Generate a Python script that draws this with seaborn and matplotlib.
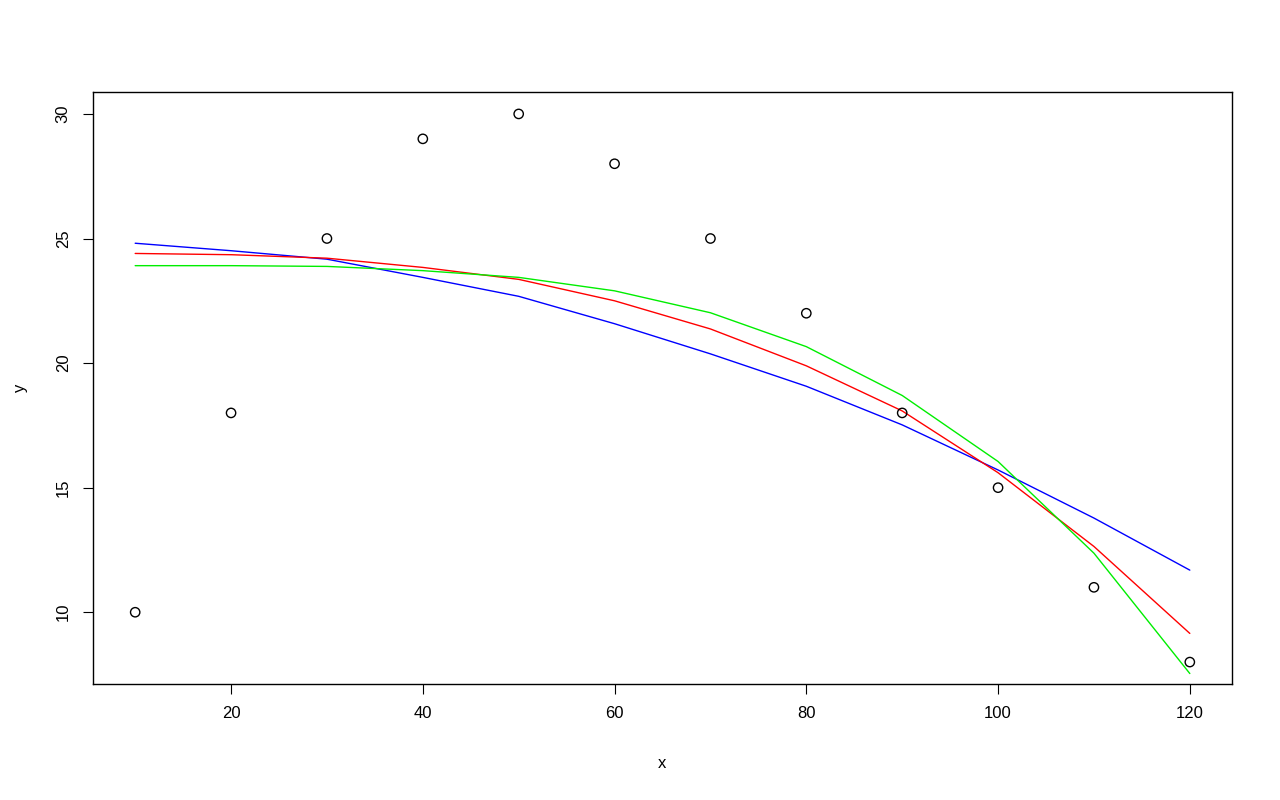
import matplotlib
matplotlib.use("Agg")
import matplotlib.pyplot as plt
import seaborn as sns
import pandas as pd

x = [10, 20, 30, 40, 50, 60, 70, 80, 90, 100, 110, 120]
y = [10, 18, 25, 29, 30, 28, 25, 22, 18, 15, 11, 8]
fit_blue = [24.81, 24.51, 24.17, 23.44, 22.68, 21.58, 20.37, 19.07, 17.52, 15.71, 13.78, 11.69]
fit_red = [24.40, 24.35, 24.21, 23.84, 23.36, 22.50, 21.37, 19.89, 18.08, 15.60, 12.64, 9.15]
fit_green = [23.91, 23.91, 23.88, 23.71, 23.44, 22.90, 22.02, 20.66, 18.70, 16.05, 12.37, 7.54]

df = pd.DataFrame({"x": x, "y": y, "blue": fit_blue, "red": fit_red, "green": fit_green})

sns.set_style("white")
plt.rcParams["font.family"] = ["Liberation Sans", "DejaVu Sans"]
plt.rcParams["text.color"] = "black"
plt.rcParams["axes.labelcolor"] = "black"
plt.rcParams["xtick.color"] = "black"
plt.rcParams["ytick.color"] = "black"

fig = plt.figure(figsize=(12.8, 8), dpi=100)
ax = fig.add_axes([93/1280, 1-684/800, (1232-93)/1280, (684-92)/800])

sns.scatterplot(data=df, x="x", y="y", ax=ax, marker="o", s=45,
                facecolor="none", edgecolor="black", linewidth=1.0, zorder=3)
sns.lineplot(data=df, x="x", y="blue", ax=ax, color="#0000FF", linewidth=1.0, zorder=2)
sns.lineplot(data=df, x="x", y="red", ax=ax, color="#FF0000", linewidth=1.0, zorder=2)
sns.lineplot(data=df, x="x", y="green", ax=ax, color="#00EE00", linewidth=1.0, zorder=2)

rx = max(x) - min(x)
ry = max(y) - min(y)
ax.set_xlim(min(x) - 0.04*rx, max(x) + 0.04*rx)
ax.set_ylim(min(y) - 0.04*ry, max(y) + 0.04*ry)
ax.set_xticks([20, 40, 60, 80, 100, 120])
ax.set_yticks([10, 15, 20, 25, 30])
ax.set_yticklabels(["10", "15", "20", "25", "30"], rotation=90, va="center")

for s in ax.spines.values():
    s.set_visible(True)
    s.set_color("black")
    s.set_linewidth(1.0)

ax.tick_params(axis="both", direction="out", length=7, width=0.8, color="black",
               labelsize=12, labelcolor="black", pad=9, left=True, bottom=True)
ax.set_xlabel("x", fontsize=12, labelpad=25)
ax.set_ylabel("y", fontsize=12, labelpad=20)

fig.savefig("out.png", dpi=100, facecolor="white")
